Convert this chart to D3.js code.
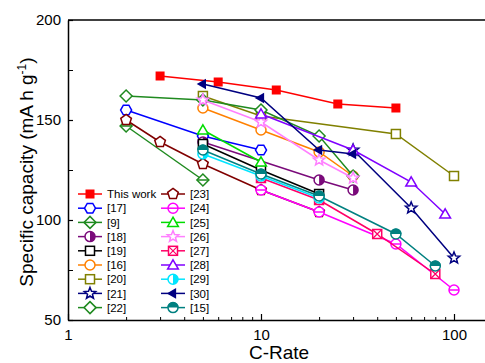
<!DOCTYPE html>
<html>
<head>
<meta charset="utf-8">
<script src="https://cdn.jsdelivr.net/npm/d3@7"></script>
<style>
  html, body { margin: 0; padding: 0; background: #fff; }
  svg { display: block; font-family: "Liberation Sans", Arial, sans-serif; }
</style>
</head>
<body>
<svg id="chart" width="485" height="363"></svg>
<script>
// Rate capability data: [C-rate, specific capacity (mA h g-1)]
const thisWork = [[3, 172], [6, 169], [12, 165], [25, 158], [50, 156]];
const ref17 = [[2, 155], [5, 142], [10, 135]];
const ref9  = [[2, 147], [5, 120]];
const ref18 = [[5, 139], [20, 120], [30, 115]];
const ref19 = [[5, 138], [10, 125], [20, 113]];
const ref16 = [[5, 156], [10, 145], [20, 134], [30, 122]];
const ref20 = [[5, 162], [10, 152], [50, 143], [100, 122]];
const ref21 = [[30, 135], [60, 106], [100, 81]];
const ref22 = [[2, 162], [5, 160], [10, 155], [20, 142], [30, 122]];
const ref23 = [[2, 150], [3, 139], [5, 128], [10, 115], [20, 104]];
const ref24 = [[10, 115], [20, 104], [50, 88], [100, 65]];
const ref25 = [[5, 145], [10, 129]];
const ref26 = [[5, 160], [10, 149], [20, 130], [30, 121]];
const ref27 = [[10, 121], [20, 110], [40, 93], [80, 73]];
const ref28 = [[10, 153], [30, 135], [60, 119], [90, 103]];
const ref29 = [[5, 133], [10, 122], [20, 111]];
const ref30 = [[5, 168], [10, 161], [20, 135], [30, 133]];
const ref15 = [[5, 135], [10, 123], [20, 112], [50, 93], [80, 77]];

const seriesLabels = ["This work", "[17]", "[9]", "[18]", "[19]", "[16]", "[20]", "[21]", "[22]",
                      "[23]", "[24]", "[25]", "[26]", "[27]", "[28]", "[29]", "[30]", "[15]"];
const seriesData = [thisWork, ref17, ref9, ref18, ref19, ref16, ref20, ref21, ref22,
                    ref23, ref24, ref25, ref26, ref27, ref28, ref29, ref30, ref15];
const seriesColors = ["#ff0000", "#0000ff", "#1f8a1f", "#7a0a7a", "#000000", "#ff8000", "#808000", "#000080", "#1f8a1f",
                      "#800000", "#ff00ff", "#00dd00", "#ff80ff", "#ff0066", "#8000ff", "#00e5ff", "#000080", "#008080"];
const seriesSymbols = ["squareFill", "hexagon", "diamondLine", "halfRight", "square", "circle", "square", "star", "diamond",
                       "pentagon", "circleLine", "triangle", "star", "squareX", "triangle", "halfRight", "triLeft", "halfTop"];

const xMajor = [1, 10, 100];
const yTicks = [50, 100, 150, 200];

const svg = d3.select("#chart");
const plotLeft = 68, plotTop = 20, plotBottom = 320;
const x = d3.scaleLog().domain([1, 150]).range([plotLeft, plotLeft + 193 * Math.log10(150)]);
const y = d3.scaleLinear().domain([50, 200]).range([plotBottom, plotTop]);

// Axes
const xMinor = [];
for (let d = 1; d <= 100; d *= 10) for (let k = 2; k <= 9; k++) if (d * k <= 150) xMinor.push(d * k);

svg.append("g").attr("transform", `translate(0,${plotBottom})`)
  .call(d3.axisBottom(x).tickValues(xMinor).tickSize(-3).tickSizeOuter(0).tickFormat(""))
  .call(g => g.select(".domain").remove())
  .call(g => g.selectAll("line").attr("stroke", "#000").attr("stroke-width", 1));

svg.append("g").attr("transform", `translate(0,${plotBottom})`)
  .call(d3.axisBottom(x).tickValues(xMajor).tickSize(-6).tickSizeOuter(0).tickPadding(9).tickFormat(d3.format("d")))
  .call(g => g.select(".domain").attr("stroke-width", 1.5))
  .call(g => g.selectAll("line").attr("stroke-width", 1.2))
  .call(g => g.selectAll("text").attr("font-size", 15).attr("fill", "#000"));

svg.append("g").attr("transform", `translate(${plotLeft},0)`)
  .call(d3.axisLeft(y).tickValues([75, 125, 175]).tickSize(-5).tickSizeOuter(0).tickFormat(""))
  .call(g => g.select(".domain").remove())
  .call(g => g.selectAll("line").attr("stroke-width", 1));

svg.append("g").attr("transform", `translate(${plotLeft},0)`)
  .call(d3.axisLeft(y).tickValues(yTicks).tickSize(-5).tickSizeOuter(0).tickPadding(7))
  .call(g => g.select(".domain").attr("stroke-width", 1.5))
  .call(g => g.selectAll("line").attr("stroke-width", 1.2))
  .call(g => g.selectAll("text").attr("font-size", 15).attr("fill", "#000"));

// top frame
svg.append("line").attr("x1", plotLeft).attr("x2", 485).attr("y1", plotTop).attr("y2", plotTop)
  .attr("stroke", "#000").attr("stroke-width", 1.5);

// Axis titles
svg.append("text").attr("x", 279).attr("y", 359).attr("text-anchor", "middle")
  .attr("font-size", 19).text("C-Rate");

const yt = svg.append("text").attr("transform", "translate(33,172) rotate(-90)")
  .attr("text-anchor", "middle").attr("font-size", 19);
yt.append("tspan").text("Specific capacity (mA h g");
yt.append("tspan").attr("font-size", 12).attr("dy", -7).text("-1");
yt.append("tspan").attr("dy", 7).text(")");

// Marker drawing
function polygon(n, r, rot) {
  const pts = [];
  for (let i = 0; i < n; i++) {
    const a = rot + i * 2 * Math.PI / n;
    pts.push([r * Math.cos(a), r * Math.sin(a)]);
  }
  return pts.map(p => p.join(",")).join(" ");
}
function starPts(R, r) {
  const pts = [];
  for (let i = 0; i < 10; i++) {
    const a = -Math.PI / 2 + i * Math.PI / 5;
    const rad = i % 2 === 0 ? R : r;
    pts.push([rad * Math.cos(a), rad * Math.sin(a)]);
  }
  return pts.map(p => p.join(",")).join(" ");
}
function drawMarker(g, type, color) {
  const sw = 1.5;
  const open = el => el.attr("fill", "#fff").attr("stroke", color).attr("stroke-width", sw);
  switch (type) {
    case "squareFill":
      g.append("rect").attr("x", -4.5).attr("y", -4.5).attr("width", 9).attr("height", 9).attr("fill", color);
      break;
    case "square":
      open(g.append("rect").attr("x", -4.5).attr("y", -4.5).attr("width", 9).attr("height", 9));
      break;
    case "squareX":
      open(g.append("rect").attr("x", -4.5).attr("y", -4.5).attr("width", 9).attr("height", 9));
      g.append("path").attr("d", "M-4.5,-4.5L4.5,4.5M-4.5,4.5L4.5,-4.5").attr("stroke", color).attr("stroke-width", 1.2);
      break;
    case "circle":
      open(g.append("circle").attr("r", 5));
      break;
    case "circleLine":
      open(g.append("circle").attr("r", 5));
      g.append("line").attr("x1", -5).attr("x2", 5).attr("stroke", color).attr("stroke-width", sw);
      break;
    case "halfRight":
      open(g.append("circle").attr("r", 5));
      g.append("path").attr("d", d3.arc()({innerRadius: 0, outerRadius: 5, startAngle: 0, endAngle: Math.PI})).attr("fill", color);
      break;
    case "halfTop":
      open(g.append("circle").attr("r", 5).attr("stroke", "#40c0c0"));
      g.append("path").attr("d", d3.arc()({innerRadius: 0, outerRadius: 5.6, startAngle: -Math.PI / 2, endAngle: Math.PI / 2})).attr("fill", color);
      break;
    case "hexagon":
      open(g.append("polygon").attr("points", polygon(6, 5.5, 0)));
      break;
    case "pentagon":
      open(g.append("polygon").attr("points", polygon(5, 5.6, -Math.PI / 2)));
      break;
    case "diamond":
      open(g.append("polygon").attr("points", polygon(4, 6, 0)));
      break;
    case "diamondLine":
      open(g.append("polygon").attr("points", polygon(4, 6, 0)));
      g.append("line").attr("x1", -6).attr("x2", 6).attr("stroke", color).attr("stroke-width", sw);
      break;
    case "triangle":
      open(g.append("polygon").attr("points", polygon(3, 6.2, -Math.PI / 2)).attr("transform", "translate(0,1)"));
      break;
    case "triLeft":
      g.append("polygon").attr("points", polygon(3, 6.2, Math.PI)).attr("fill", color);
      break;
    case "star":
      open(g.append("polygon").attr("points", starPts(6, 2.6)));
      break;
  }
}

// Series lines and symbols
const line = d3.line().x(d => x(d[0])).y(d => y(d[1]));
seriesData.forEach((data, i) => {
  const g = svg.append("g");
  g.append("path").attr("d", line(data)).attr("fill", "none")
    .attr("stroke", seriesColors[i]).attr("stroke-width", 1.5);
  data.forEach(d => {
    drawMarker(g.append("g").attr("transform", `translate(${x(d[0])},${y(d[1])})`), seriesSymbols[i], seriesColors[i]);
  });
});

// Legend (two columns)
const legend = svg.append("g");
seriesLabels.forEach((label, i) => {
  const col = i < 9 ? 0 : 1;
  const row = i % 9;
  const lx = col === 0 ? 78 : 161;
  const ly = 194 + row * 14.2;
  const g = legend.append("g").attr("transform", `translate(${lx},${ly})`);
  g.append("line").attr("x1", 0).attr("x2", 24).attr("stroke", seriesColors[i]).attr("stroke-width", 1.5);
  drawMarker(g.append("g").attr("transform", "translate(12,0)"), seriesSymbols[i], seriesColors[i]);
  g.append("text").attr("x", 29).attr("y", 4.2).attr("font-size", 11.5).attr("fill", "#000").text(label);
});
</script>
</body>
</html>
